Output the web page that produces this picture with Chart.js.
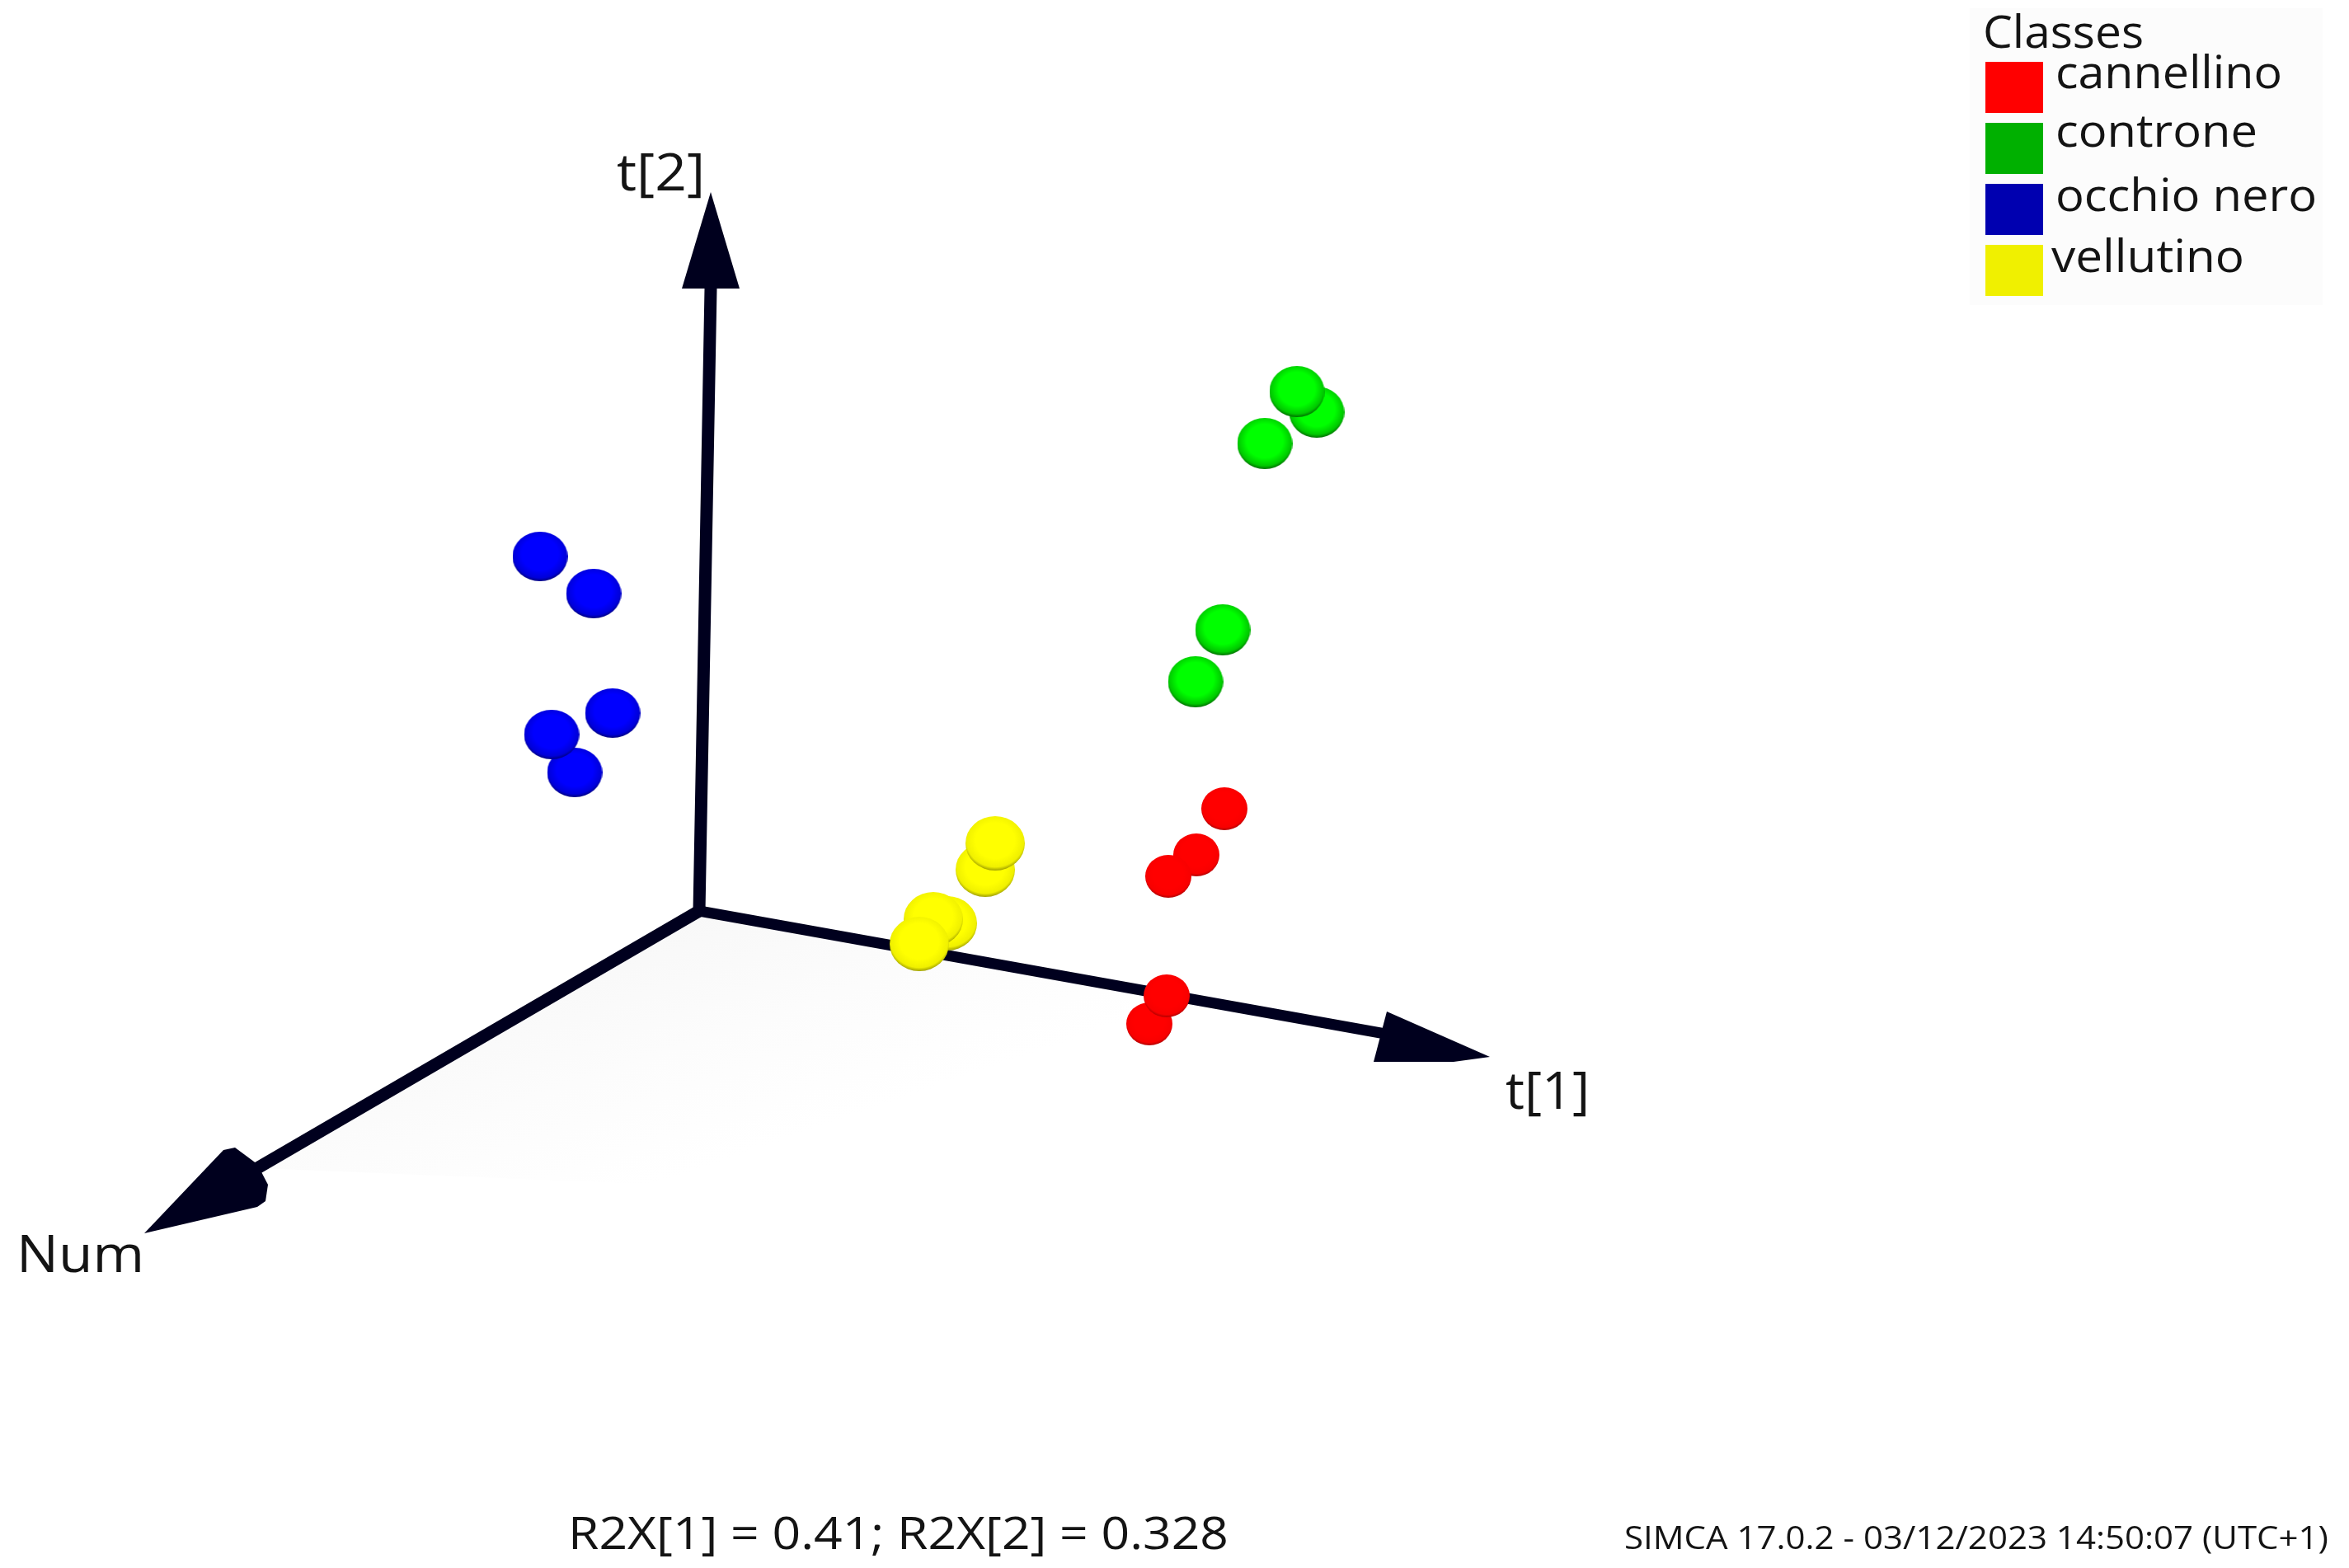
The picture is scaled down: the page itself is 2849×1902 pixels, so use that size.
<!DOCTYPE html>
<html>
<head>
<meta charset="utf-8">
<title>Score plot</title>
<script src="https://cdn.jsdelivr.net/npm/chart.js@4"></script>
<style>
  html, body { margin: 0; padding: 0; background: #fff; }
  canvas { display: block; }
</style>
</head>
<body>
<canvas id="scorePlot" width="2849" height="1902"></canvas>
<script>
// projected score values, axis origin at 0,0
const classNames = ['cannellino', 'controne', 'occhio nero', 'vellutino'];
const classColors = ['#ff0000', '#00b000', '#0000b0', '#f0f000'];

const cannellinoX = [637, 603, 569, 546, 567];
const cannellinoY = [124, 68, 42, -137, -103];
const controneX = [749, 725, 686, 635, 602];
const controneY = [605, 630, 567, 341, 278];
const occhioNeroX = [-193, -128, -105, -151, -179];
const occhioNeroY = [430, 385, 240, 168, 214];
const vellutinoX = [347, 359, 301, 284, 267];
const vellutinoY = [50, 82, -15, -10, -40];

// axes as drawn in the projection
const axisT1 = [[0, 0], [832, -149]];
const axisT2 = [[0, 0], [14, 755]];
const axisNum = [[0, 0], [-536, -312]];
const headT1 = [[959, -177], [834, -122], [818, -183], [915, -183]];
const headT2 = [[14, 872], [-21, 755], [49, 755]];
const headNum = [[-673, -391], [-577, -290], [-563, -287], [-536, -307], [-523, -332], [-526, -352], [-536, -359]];
const floorShade = [[0, 0], [832, -149], [640, -360], [-536, -312]];

const AXIS_COLOR = '#00001e';
const TEXT_COLOR = '#141414';
const FONT = '"Open Sans", sans-serif';

function toPoints(pairs) {
    return pairs.map(p => ({ x: p[0], y: p[1] }));
}

function zip(xs, ys) {
    return xs.map((x, i) => ({ x: x, y: ys[i] }));
}

// small shaded ball used as point style
function makeBall(w, h, light, mid, dark) {
    const c = document.createElement('canvas');
    c.width = w;
    c.height = h;
    const g = c.getContext('2d');
    g.translate(w / 2, h / 2);
    g.scale(w / h, 1);
    const r = h / 2;
    const grad = g.createRadialGradient(0, -r * 0.1, 0, 0, -r * 0.1, r * 1.1);
    grad.addColorStop(0, light);
    grad.addColorStop(0.6, light);
    grad.addColorStop(0.88, mid);
    grad.addColorStop(1, dark);
    g.fillStyle = grad;
    g.beginPath();
    g.arc(0, 0, r, 0, Math.PI * 2);
    g.fill();
    return c;
}

function ballSet(data, ball) {
    return {
        data: data,
        pointStyle: ball,
        pointRadius: 30,
        showLine: false,
        order: 1
    };
}

function axisLine(pairs, width) {
    return {
        data: toPoints(pairs),
        showLine: true,
        borderColor: AXIS_COLOR,
        borderWidth: width,
        borderCapStyle: 'round',
        pointRadius: 0,
        fill: false,
        order: 5
    };
}

function polygon(pairs, color, order) {
    return {
        data: toPoints(pairs),
        showLine: true,
        borderWidth: 0,
        pointRadius: 0,
        backgroundColor: color,
        fill: 'shape',
        order: order
    };
}

// the reference text is a bit stretched sideways, so squeeze each string to its width
function fitText(ctx, text, x, y, width) {
    const natural = ctx.measureText(text).width;
    ctx.save();
    ctx.translate(x, y);
    ctx.scale(width / natural, 1);
    ctx.fillText(text, 0, 0);
    ctx.restore();
}

const canvasEl = document.getElementById('scorePlot');
const floorGrad = canvasEl.getContext('2d').createLinearGradient(848, 1105, 945, 1385);
floorGrad.addColorStop(0, '#f8f8f8');
floorGrad.addColorStop(0.5, '#fcfcfc');
floorGrad.addColorStop(1, '#ffffff');

const textPlugin = {
    id: 'plotText',
    afterDraw(chart) {
        const ctx = chart.ctx;
        ctx.save();
        ctx.textBaseline = 'alphabetic';
        ctx.textAlign = 'left';

        // legend panel
        ctx.fillStyle = '#fcfcfc';
        ctx.fillRect(2389, 10, 428, 360);
        const legendY = [75, 149, 223, 297];
        const legendBase = [107, 178, 256, 330];
        const legendTextX = [2493, 2493, 2493, 2488];
        const legendWidth = [275, 245, 317, 234];
        ctx.font = '54px ' + FONT;
        ctx.fillStyle = TEXT_COLOR;
        fitText(ctx, 'Classes', 2405, 58, 195);
        classNames.forEach((name, i) => {
            ctx.fillStyle = classColors[i];
            ctx.fillRect(2408, legendY[i], 70, 62);
            ctx.fillStyle = TEXT_COLOR;
            fitText(ctx, name, legendTextX[i], legendBase[i], legendWidth[i]);
        });

        ctx.font = '62px ' + FONT;
        fitText(ctx, 't[2]', 748, 231, 107);
        fitText(ctx, 't[1]', 1826, 1345, 102);
        fitText(ctx, 'Num', 20, 1543, 155);

        ctx.font = '54px ' + FONT;
        fitText(ctx, 'R2X[1] = 0.41; R2X[2] = 0.328', 689, 1879, 801);
        ctx.font = '39px ' + FONT;
        fitText(ctx, 'SIMCA 17.0.2 - 03/12/2023 14:50:07 (UTC+1)', 1970, 1879, 854);
        ctx.restore();
    }
};

new Chart(canvasEl, {
    type: 'scatter',
    data: {
        datasets: [
            polygon(floorShade, floorGrad, 9),
            axisLine(axisT1, 13),
            axisLine(axisT2, 15),
            axisLine(axisNum, 15),
            polygon(headT1, AXIS_COLOR, 4),
            polygon(headT2, AXIS_COLOR, 4),
            polygon(headNum, AXIS_COLOR, 4),
            ballSet(zip(cannellinoX, cannellinoY), makeBall(56, 52, '#ff0000', '#f80000', '#b00000')),
            ballSet(zip(controneX, controneY), makeBall(67, 62, '#00ff00', '#00c800', '#007000')),
            ballSet(zip(occhioNeroX, occhioNeroY), makeBall(67, 60, '#0000ff', '#0000d8', '#000080')),
            ballSet(zip(vellutinoX, vellutinoY), makeBall(72, 66, '#ffff00', '#f0f000', '#a0a000'))
        ]
    },
    options: {
        responsive: false,
        animation: false,
        events: [],
        layout: { padding: 0, autoPadding: false },
        scales: {
            x: { type: 'linear', min: -848, max: 2001, display: false },
            y: { type: 'linear', min: -797, max: 1105, display: false }
        },
        plugins: {
            legend: { display: false },
            tooltip: { enabled: false }
        }
    },
    plugins: [textPlugin]
});
</script>
</body>
</html>
